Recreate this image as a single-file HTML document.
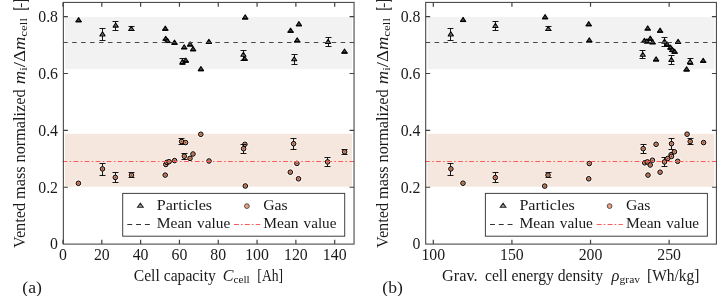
<!DOCTYPE html>
<html><head><meta charset="utf-8"><style>
html,body{margin:0;padding:0;background:#fff;width:725px;height:296px;overflow:hidden}
svg{display:block;will-change:transform}
.t{font-family:"Liberation Serif",serif;font-size:15.8px;fill:#1a1a1a}
.lg{font-size:14.2px}
.sub{font-size:0.7em}
</style></head><body>
<svg width="725" height="296" viewBox="0 0 725 296">
<rect x="65.00" y="16.9" width="287.10" height="52.3" fill="#f2f2f2"/>
<rect x="65.00" y="133.8" width="287.10" height="52.9" fill="#f6e7de"/>
<rect x="427.45" y="16.9" width="286.85" height="52.3" fill="#f2f2f2"/>
<rect x="427.45" y="133.8" width="286.85" height="52.9" fill="#f6e7de"/>
<defs><filter id="hb" x="-50%" y="-50%" width="200%" height="200%"><feGaussianBlur stdDeviation="0.6"/></filter></defs>
<circle cx="78.40" cy="183.30" r="3.6" fill="#fff" opacity="0.75" filter="url(#hb)"/>
<circle cx="102.50" cy="168.90" r="3.6" fill="#fff" opacity="0.75" filter="url(#hb)"/>
<circle cx="115.30" cy="177.40" r="3.6" fill="#fff" opacity="0.75" filter="url(#hb)"/>
<circle cx="131.50" cy="175.10" r="3.6" fill="#fff" opacity="0.75" filter="url(#hb)"/>
<circle cx="165.20" cy="175.10" r="3.6" fill="#fff" opacity="0.75" filter="url(#hb)"/>
<circle cx="165.80" cy="164.50" r="3.6" fill="#fff" opacity="0.75" filter="url(#hb)"/>
<circle cx="166.90" cy="162.30" r="3.6" fill="#fff" opacity="0.75" filter="url(#hb)"/>
<circle cx="169.10" cy="161.70" r="3.6" fill="#fff" opacity="0.75" filter="url(#hb)"/>
<circle cx="174.60" cy="160.60" r="3.6" fill="#fff" opacity="0.75" filter="url(#hb)"/>
<circle cx="181.60" cy="141.50" r="3.6" fill="#fff" opacity="0.75" filter="url(#hb)"/>
<circle cx="185.60" cy="142.60" r="3.6" fill="#fff" opacity="0.75" filter="url(#hb)"/>
<circle cx="184.30" cy="156.20" r="3.6" fill="#fff" opacity="0.75" filter="url(#hb)"/>
<circle cx="190.00" cy="158.40" r="3.6" fill="#fff" opacity="0.75" filter="url(#hb)"/>
<circle cx="193.00" cy="154.00" r="3.6" fill="#fff" opacity="0.75" filter="url(#hb)"/>
<circle cx="200.80" cy="134.30" r="3.6" fill="#fff" opacity="0.75" filter="url(#hb)"/>
<circle cx="209.00" cy="161.00" r="3.6" fill="#fff" opacity="0.75" filter="url(#hb)"/>
<circle cx="244.90" cy="144.30" r="3.6" fill="#fff" opacity="0.75" filter="url(#hb)"/>
<circle cx="243.60" cy="148.70" r="3.6" fill="#fff" opacity="0.75" filter="url(#hb)"/>
<circle cx="245.30" cy="186.00" r="3.6" fill="#fff" opacity="0.75" filter="url(#hb)"/>
<circle cx="293.60" cy="143.70" r="3.6" fill="#fff" opacity="0.75" filter="url(#hb)"/>
<circle cx="296.90" cy="163.40" r="3.6" fill="#fff" opacity="0.75" filter="url(#hb)"/>
<circle cx="290.30" cy="172.20" r="3.6" fill="#fff" opacity="0.75" filter="url(#hb)"/>
<circle cx="298.50" cy="178.80" r="3.6" fill="#fff" opacity="0.75" filter="url(#hb)"/>
<circle cx="327.60" cy="161.90" r="3.6" fill="#fff" opacity="0.75" filter="url(#hb)"/>
<circle cx="344.60" cy="151.80" r="3.6" fill="#fff" opacity="0.75" filter="url(#hb)"/>
<path d="M78.60 15.90L82.70 23.00H74.50Z" fill="#fff" opacity="0.75" filter="url(#hb)"/>
<path d="M102.50 30.10L106.60 37.20H98.40Z" fill="#fff" opacity="0.75" filter="url(#hb)"/>
<path d="M115.70 21.30L119.80 28.40H111.60Z" fill="#fff" opacity="0.75" filter="url(#hb)"/>
<path d="M131.30 24.70L135.40 31.80H127.20Z" fill="#fff" opacity="0.75" filter="url(#hb)"/>
<path d="M165.30 24.40L169.40 31.50H161.20Z" fill="#fff" opacity="0.75" filter="url(#hb)"/>
<path d="M165.70 34.50L169.80 41.60H161.60Z" fill="#fff" opacity="0.75" filter="url(#hb)"/>
<path d="M167.50 36.70L171.60 43.80H163.40Z" fill="#fff" opacity="0.75" filter="url(#hb)"/>
<path d="M174.50 38.40L178.60 45.50H170.40Z" fill="#fff" opacity="0.75" filter="url(#hb)"/>
<path d="M184.20 43.00L188.30 50.10H180.10Z" fill="#fff" opacity="0.75" filter="url(#hb)"/>
<path d="M190.10 40.20L194.20 47.30H186.00Z" fill="#fff" opacity="0.75" filter="url(#hb)"/>
<path d="M193.10 44.90L197.20 52.00H189.00Z" fill="#fff" opacity="0.75" filter="url(#hb)"/>
<path d="M182.50 57.70L186.60 64.80H178.40Z" fill="#fff" opacity="0.75" filter="url(#hb)"/>
<path d="M185.80 56.30L189.90 63.40H181.70Z" fill="#fff" opacity="0.75" filter="url(#hb)"/>
<path d="M200.90 64.80L205.00 71.90H196.80Z" fill="#fff" opacity="0.75" filter="url(#hb)"/>
<path d="M244.60 54.50L248.70 61.60H240.50Z" fill="#fff" opacity="0.75" filter="url(#hb)"/>
<path d="M208.90 37.60L213.00 44.70H204.80Z" fill="#fff" opacity="0.75" filter="url(#hb)"/>
<path d="M245.20 13.10L249.30 20.20H241.10Z" fill="#fff" opacity="0.75" filter="url(#hb)"/>
<path d="M298.90 19.90L303.00 27.00H294.80Z" fill="#fff" opacity="0.75" filter="url(#hb)"/>
<path d="M290.60 26.40L294.70 33.50H286.50Z" fill="#fff" opacity="0.75" filter="url(#hb)"/>
<path d="M297.20 36.10L301.30 43.20H293.10Z" fill="#fff" opacity="0.75" filter="url(#hb)"/>
<path d="M328.10 37.70L332.20 44.80H324.00Z" fill="#fff" opacity="0.75" filter="url(#hb)"/>
<path d="M344.50 47.30L348.60 54.40H340.40Z" fill="#fff" opacity="0.75" filter="url(#hb)"/>
<path d="M243.40 50.50L247.50 57.60H239.30Z" fill="#fff" opacity="0.75" filter="url(#hb)"/>
<path d="M294.20 55.00L298.30 62.10H290.10Z" fill="#fff" opacity="0.75" filter="url(#hb)"/>
<circle cx="450.90" cy="168.90" r="3.6" fill="#fff" opacity="0.75" filter="url(#hb)"/>
<circle cx="463.00" cy="183.20" r="3.6" fill="#fff" opacity="0.75" filter="url(#hb)"/>
<circle cx="495.30" cy="177.60" r="3.6" fill="#fff" opacity="0.75" filter="url(#hb)"/>
<circle cx="548.00" cy="175.10" r="3.6" fill="#fff" opacity="0.75" filter="url(#hb)"/>
<circle cx="544.70" cy="186.10" r="3.6" fill="#fff" opacity="0.75" filter="url(#hb)"/>
<circle cx="589.30" cy="163.50" r="3.6" fill="#fff" opacity="0.75" filter="url(#hb)"/>
<circle cx="588.70" cy="178.80" r="3.6" fill="#fff" opacity="0.75" filter="url(#hb)"/>
<circle cx="643.20" cy="148.70" r="3.6" fill="#fff" opacity="0.75" filter="url(#hb)"/>
<circle cx="656.10" cy="144.30" r="3.6" fill="#fff" opacity="0.75" filter="url(#hb)"/>
<circle cx="671.50" cy="143.70" r="3.6" fill="#fff" opacity="0.75" filter="url(#hb)"/>
<circle cx="687.10" cy="134.20" r="3.6" fill="#fff" opacity="0.75" filter="url(#hb)"/>
<circle cx="690.20" cy="141.50" r="3.6" fill="#fff" opacity="0.75" filter="url(#hb)"/>
<circle cx="703.60" cy="142.60" r="3.6" fill="#fff" opacity="0.75" filter="url(#hb)"/>
<circle cx="644.70" cy="162.80" r="3.6" fill="#fff" opacity="0.75" filter="url(#hb)"/>
<circle cx="647.30" cy="161.90" r="3.6" fill="#fff" opacity="0.75" filter="url(#hb)"/>
<circle cx="650.20" cy="165.00" r="3.6" fill="#fff" opacity="0.75" filter="url(#hb)"/>
<circle cx="652.40" cy="160.20" r="3.6" fill="#fff" opacity="0.75" filter="url(#hb)"/>
<circle cx="648.00" cy="175.10" r="3.6" fill="#fff" opacity="0.75" filter="url(#hb)"/>
<circle cx="660.10" cy="172.20" r="3.6" fill="#fff" opacity="0.75" filter="url(#hb)"/>
<circle cx="664.50" cy="161.90" r="3.6" fill="#fff" opacity="0.75" filter="url(#hb)"/>
<circle cx="667.80" cy="158.40" r="3.6" fill="#fff" opacity="0.75" filter="url(#hb)"/>
<circle cx="671.10" cy="154.70" r="3.6" fill="#fff" opacity="0.75" filter="url(#hb)"/>
<circle cx="671.50" cy="156.40" r="3.6" fill="#fff" opacity="0.75" filter="url(#hb)"/>
<circle cx="674.40" cy="151.80" r="3.6" fill="#fff" opacity="0.75" filter="url(#hb)"/>
<circle cx="677.70" cy="161.30" r="3.6" fill="#fff" opacity="0.75" filter="url(#hb)"/>
<path d="M450.80 30.10L454.90 37.20H446.70Z" fill="#fff" opacity="0.75" filter="url(#hb)"/>
<path d="M463.10 15.70L467.20 22.80H459.00Z" fill="#fff" opacity="0.75" filter="url(#hb)"/>
<path d="M495.40 21.70L499.50 28.80H491.30Z" fill="#fff" opacity="0.75" filter="url(#hb)"/>
<path d="M545.10 12.90L549.20 20.00H541.00Z" fill="#fff" opacity="0.75" filter="url(#hb)"/>
<path d="M548.30 24.70L552.40 31.80H544.20Z" fill="#fff" opacity="0.75" filter="url(#hb)"/>
<path d="M588.70 19.90L592.80 27.00H584.60Z" fill="#fff" opacity="0.75" filter="url(#hb)"/>
<path d="M589.30 36.10L593.40 43.20H585.20Z" fill="#fff" opacity="0.75" filter="url(#hb)"/>
<path d="M647.70 24.20L651.80 31.30H643.60Z" fill="#fff" opacity="0.75" filter="url(#hb)"/>
<path d="M660.10 26.40L664.20 33.50H656.00Z" fill="#fff" opacity="0.75" filter="url(#hb)"/>
<path d="M644.40 36.60L648.50 43.70H640.30Z" fill="#fff" opacity="0.75" filter="url(#hb)"/>
<path d="M646.90 37.10L651.00 44.20H642.80Z" fill="#fff" opacity="0.75" filter="url(#hb)"/>
<path d="M650.30 34.40L654.40 41.50H646.20Z" fill="#fff" opacity="0.75" filter="url(#hb)"/>
<path d="M652.60 38.00L656.70 45.10H648.50Z" fill="#fff" opacity="0.75" filter="url(#hb)"/>
<path d="M664.50 37.40L668.60 44.50H660.40Z" fill="#fff" opacity="0.75" filter="url(#hb)"/>
<path d="M667.20 40.30L671.30 47.40H663.10Z" fill="#fff" opacity="0.75" filter="url(#hb)"/>
<path d="M670.50 43.30L674.60 50.40H666.40Z" fill="#fff" opacity="0.75" filter="url(#hb)"/>
<path d="M672.30 45.70L676.40 52.80H668.20Z" fill="#fff" opacity="0.75" filter="url(#hb)"/>
<path d="M674.60 47.40L678.70 54.50H670.50Z" fill="#fff" opacity="0.75" filter="url(#hb)"/>
<path d="M678.10 37.60L682.20 44.70H674.00Z" fill="#fff" opacity="0.75" filter="url(#hb)"/>
<path d="M642.80 50.50L646.90 57.60H638.70Z" fill="#fff" opacity="0.75" filter="url(#hb)"/>
<path d="M656.10 55.10L660.20 62.20H652.00Z" fill="#fff" opacity="0.75" filter="url(#hb)"/>
<path d="M671.40 55.70L675.50 62.80H667.30Z" fill="#fff" opacity="0.75" filter="url(#hb)"/>
<path d="M690.10 57.60L694.20 64.70H686.00Z" fill="#fff" opacity="0.75" filter="url(#hb)"/>
<path d="M703.20 56.50L707.30 63.60H699.10Z" fill="#fff" opacity="0.75" filter="url(#hb)"/>
<path d="M686.60 65.10L690.70 72.20H682.50Z" fill="#fff" opacity="0.75" filter="url(#hb)"/>
<circle cx="78.40" cy="183.30" r="2.3" fill="#d28a68" stroke="#000" stroke-width="1.0"/>
<circle cx="78.40" cy="183.30" r="0.55" fill="#5a3020"/>
<path d="M102.50 163.50V175.50M99.50 163.50h6M99.50 175.50h6" stroke="#000" stroke-width="0.9" fill="none"/>
<circle cx="102.50" cy="168.90" r="2.3" fill="#d28a68" stroke="#000" stroke-width="1.0"/>
<circle cx="102.50" cy="168.90" r="0.55" fill="#5a3020"/>
<path d="M115.50 172.50V182.50M112.50 172.50h6M112.50 182.50h6" stroke="#000" stroke-width="0.9" fill="none"/>
<circle cx="115.30" cy="177.40" r="2.3" fill="#d28a68" stroke="#000" stroke-width="1.0"/>
<circle cx="115.30" cy="177.40" r="0.55" fill="#5a3020"/>
<path d="M131.50 172.50V177.50M128.50 172.50h6M128.50 177.50h6" stroke="#000" stroke-width="0.9" fill="none"/>
<circle cx="131.50" cy="175.10" r="2.3" fill="#d28a68" stroke="#000" stroke-width="1.0"/>
<circle cx="131.50" cy="175.10" r="0.55" fill="#5a3020"/>
<circle cx="165.20" cy="175.10" r="2.3" fill="#d28a68" stroke="#000" stroke-width="1.0"/>
<circle cx="165.20" cy="175.10" r="0.55" fill="#5a3020"/>
<circle cx="165.80" cy="164.50" r="2.3" fill="#d28a68" stroke="#000" stroke-width="1.0"/>
<circle cx="165.80" cy="164.50" r="0.55" fill="#5a3020"/>
<circle cx="166.90" cy="162.30" r="2.3" fill="#d28a68" stroke="#000" stroke-width="1.0"/>
<circle cx="166.90" cy="162.30" r="0.55" fill="#5a3020"/>
<circle cx="169.10" cy="161.70" r="2.3" fill="#d28a68" stroke="#000" stroke-width="1.0"/>
<circle cx="169.10" cy="161.70" r="0.55" fill="#5a3020"/>
<circle cx="174.60" cy="160.60" r="2.3" fill="#d28a68" stroke="#000" stroke-width="1.0"/>
<circle cx="174.60" cy="160.60" r="0.55" fill="#5a3020"/>
<path d="M181.50 138.50V144.50M178.50 138.50h6M178.50 144.50h6" stroke="#000" stroke-width="0.9" fill="none"/>
<circle cx="181.60" cy="141.50" r="2.3" fill="#d28a68" stroke="#000" stroke-width="1.0"/>
<circle cx="181.60" cy="141.50" r="0.55" fill="#5a3020"/>
<circle cx="185.60" cy="142.60" r="2.3" fill="#d28a68" stroke="#000" stroke-width="1.0"/>
<circle cx="185.60" cy="142.60" r="0.55" fill="#5a3020"/>
<path d="M184.50 153.50V159.50M181.50 153.50h6M181.50 159.50h6" stroke="#000" stroke-width="0.9" fill="none"/>
<circle cx="184.30" cy="156.20" r="2.3" fill="#d28a68" stroke="#000" stroke-width="1.0"/>
<circle cx="184.30" cy="156.20" r="0.55" fill="#5a3020"/>
<circle cx="190.00" cy="158.40" r="2.3" fill="#d28a68" stroke="#000" stroke-width="1.0"/>
<circle cx="190.00" cy="158.40" r="0.55" fill="#5a3020"/>
<circle cx="193.00" cy="154.00" r="2.3" fill="#d28a68" stroke="#000" stroke-width="1.0"/>
<circle cx="193.00" cy="154.00" r="0.55" fill="#5a3020"/>
<circle cx="200.80" cy="134.30" r="2.3" fill="#d28a68" stroke="#000" stroke-width="1.0"/>
<circle cx="200.80" cy="134.30" r="0.55" fill="#5a3020"/>
<circle cx="209.00" cy="161.00" r="2.3" fill="#d28a68" stroke="#000" stroke-width="1.0"/>
<circle cx="209.00" cy="161.00" r="0.55" fill="#5a3020"/>
<circle cx="244.90" cy="144.30" r="2.3" fill="#d28a68" stroke="#000" stroke-width="1.0"/>
<circle cx="244.90" cy="144.30" r="0.55" fill="#5a3020"/>
<path d="M243.50 144.50V153.50M240.50 144.50h6M240.50 153.50h6" stroke="#000" stroke-width="0.9" fill="none"/>
<circle cx="243.60" cy="148.70" r="2.3" fill="#d28a68" stroke="#000" stroke-width="1.0"/>
<circle cx="243.60" cy="148.70" r="0.55" fill="#5a3020"/>
<circle cx="245.30" cy="186.00" r="2.3" fill="#d28a68" stroke="#000" stroke-width="1.0"/>
<circle cx="245.30" cy="186.00" r="0.55" fill="#5a3020"/>
<path d="M293.50 138.50V149.50M290.50 138.50h6M290.50 149.50h6" stroke="#000" stroke-width="0.9" fill="none"/>
<circle cx="293.60" cy="143.70" r="2.3" fill="#d28a68" stroke="#000" stroke-width="1.0"/>
<circle cx="293.60" cy="143.70" r="0.55" fill="#5a3020"/>
<circle cx="296.90" cy="163.40" r="2.3" fill="#d28a68" stroke="#000" stroke-width="1.0"/>
<circle cx="296.90" cy="163.40" r="0.55" fill="#5a3020"/>
<circle cx="290.30" cy="172.20" r="2.3" fill="#d28a68" stroke="#000" stroke-width="1.0"/>
<circle cx="290.30" cy="172.20" r="0.55" fill="#5a3020"/>
<circle cx="298.50" cy="178.80" r="2.3" fill="#d28a68" stroke="#000" stroke-width="1.0"/>
<circle cx="298.50" cy="178.80" r="0.55" fill="#5a3020"/>
<path d="M327.50 157.50V166.50M324.50 157.50h6M324.50 166.50h6" stroke="#000" stroke-width="0.9" fill="none"/>
<circle cx="327.60" cy="161.90" r="2.3" fill="#d28a68" stroke="#000" stroke-width="1.0"/>
<circle cx="327.60" cy="161.90" r="0.55" fill="#5a3020"/>
<path d="M344.50 149.50V154.50M341.50 149.50h6M341.50 154.50h6" stroke="#000" stroke-width="0.9" fill="none"/>
<circle cx="344.60" cy="151.80" r="2.3" fill="#d28a68" stroke="#000" stroke-width="1.0"/>
<circle cx="344.60" cy="151.80" r="0.55" fill="#5a3020"/>
<path d="M78.60 17.60L81.20 21.70H76.00Z" fill="#4a4a4a" stroke="#000" stroke-width="1.05" stroke-linejoin="round"/>
<path d="M75.60 21.60H81.60" stroke="#000" stroke-width="1.4"/>
<path d="M102.50 28.50V40.50M99.50 28.50h6M99.50 40.50h6" stroke="#000" stroke-width="0.9" fill="none"/>
<path d="M102.50 31.80L105.10 35.90H99.90Z" fill="#8c8c8c" stroke="#000" stroke-width="1.05" stroke-linejoin="round"/>
<circle cx="102.50" cy="34.30" r="0.6" fill="#333"/>
<path d="M115.50 21.50V30.50M112.50 21.50h6M112.50 30.50h6" stroke="#000" stroke-width="0.9" fill="none"/>
<path d="M115.70 23.00L118.30 27.10H113.10Z" fill="#8c8c8c" stroke="#000" stroke-width="1.05" stroke-linejoin="round"/>
<circle cx="115.70" cy="25.50" r="0.6" fill="#333"/>
<path d="M131.50 26.50V30.50M128.50 26.50h6M128.50 30.50h6" stroke="#000" stroke-width="0.9" fill="none"/>
<path d="M131.30 26.40L133.90 30.50H128.70Z" fill="#8c8c8c" stroke="#000" stroke-width="1.05" stroke-linejoin="round"/>
<circle cx="131.30" cy="28.90" r="0.6" fill="#333"/>
<path d="M165.30 26.10L167.90 30.20H162.70Z" fill="#4a4a4a" stroke="#000" stroke-width="1.05" stroke-linejoin="round"/>
<path d="M162.30 30.10H168.30" stroke="#000" stroke-width="1.4"/>
<path d="M165.70 36.20L168.30 40.30H163.10Z" fill="#4a4a4a" stroke="#000" stroke-width="1.05" stroke-linejoin="round"/>
<path d="M162.70 40.20H168.70" stroke="#000" stroke-width="1.4"/>
<path d="M167.50 38.40L170.10 42.50H164.90Z" fill="#4a4a4a" stroke="#000" stroke-width="1.05" stroke-linejoin="round"/>
<path d="M164.50 42.40H170.50" stroke="#000" stroke-width="1.4"/>
<path d="M174.50 40.10L177.10 44.20H171.90Z" fill="#4a4a4a" stroke="#000" stroke-width="1.05" stroke-linejoin="round"/>
<path d="M171.50 44.10H177.50" stroke="#000" stroke-width="1.4"/>
<path d="M184.20 44.70L186.80 48.80H181.60Z" fill="#4a4a4a" stroke="#000" stroke-width="1.05" stroke-linejoin="round"/>
<path d="M181.20 48.70H187.20" stroke="#000" stroke-width="1.4"/>
<path d="M190.10 41.90L192.70 46.00H187.50Z" fill="#4a4a4a" stroke="#000" stroke-width="1.05" stroke-linejoin="round"/>
<path d="M187.10 45.90H193.10" stroke="#000" stroke-width="1.4"/>
<path d="M193.10 46.60L195.70 50.70H190.50Z" fill="#4a4a4a" stroke="#000" stroke-width="1.05" stroke-linejoin="round"/>
<path d="M190.10 50.60H196.10" stroke="#000" stroke-width="1.4"/>
<path d="M182.50 58.50V64.50M179.50 58.50h6M179.50 64.50h6" stroke="#000" stroke-width="0.9" fill="none"/>
<path d="M182.50 59.40L185.10 63.50H179.90Z" fill="#8c8c8c" stroke="#000" stroke-width="1.05" stroke-linejoin="round"/>
<circle cx="182.50" cy="61.90" r="0.6" fill="#333"/>
<path d="M185.80 58.00L188.40 62.10H183.20Z" fill="#4a4a4a" stroke="#000" stroke-width="1.05" stroke-linejoin="round"/>
<path d="M182.80 62.00H188.80" stroke="#000" stroke-width="1.4"/>
<path d="M200.90 66.50L203.50 70.60H198.30Z" fill="#4a4a4a" stroke="#000" stroke-width="1.05" stroke-linejoin="round"/>
<path d="M197.90 70.50H203.90" stroke="#000" stroke-width="1.4"/>
<path d="M244.60 56.20L247.20 60.30H242.00Z" fill="#4a4a4a" stroke="#000" stroke-width="1.05" stroke-linejoin="round"/>
<path d="M241.60 60.20H247.60" stroke="#000" stroke-width="1.4"/>
<path d="M208.90 39.30L211.50 43.40H206.30Z" fill="#4a4a4a" stroke="#000" stroke-width="1.05" stroke-linejoin="round"/>
<path d="M205.90 43.30H211.90" stroke="#000" stroke-width="1.4"/>
<path d="M245.20 14.80L247.80 18.90H242.60Z" fill="#4a4a4a" stroke="#000" stroke-width="1.05" stroke-linejoin="round"/>
<path d="M242.20 18.80H248.20" stroke="#000" stroke-width="1.4"/>
<path d="M298.90 21.60L301.50 25.70H296.30Z" fill="#4a4a4a" stroke="#000" stroke-width="1.05" stroke-linejoin="round"/>
<path d="M295.90 25.60H301.90" stroke="#000" stroke-width="1.4"/>
<path d="M290.60 28.10L293.20 32.20H288.00Z" fill="#4a4a4a" stroke="#000" stroke-width="1.05" stroke-linejoin="round"/>
<path d="M287.60 32.10H293.60" stroke="#000" stroke-width="1.4"/>
<path d="M297.20 37.80L299.80 41.90H294.60Z" fill="#4a4a4a" stroke="#000" stroke-width="1.05" stroke-linejoin="round"/>
<path d="M294.20 41.80H300.20" stroke="#000" stroke-width="1.4"/>
<path d="M328.50 37.50V46.50M325.50 37.50h6M325.50 46.50h6" stroke="#000" stroke-width="0.9" fill="none"/>
<path d="M328.10 39.40L330.70 43.50H325.50Z" fill="#8c8c8c" stroke="#000" stroke-width="1.05" stroke-linejoin="round"/>
<circle cx="328.10" cy="41.90" r="0.6" fill="#333"/>
<path d="M344.50 49.00L347.10 53.10H341.90Z" fill="#4a4a4a" stroke="#000" stroke-width="1.05" stroke-linejoin="round"/>
<path d="M341.50 53.00H347.50" stroke="#000" stroke-width="1.4"/>
<path d="M243.50 50.50V60.50M240.50 50.50h6M240.50 60.50h6" stroke="#000" stroke-width="0.9" fill="none"/>
<path d="M243.40 52.20L246.00 56.30H240.80Z" fill="#8c8c8c" stroke="#000" stroke-width="1.05" stroke-linejoin="round"/>
<circle cx="243.40" cy="54.70" r="0.6" fill="#333"/>
<path d="M294.50 54.50V64.50M291.50 54.50h6M291.50 64.50h6" stroke="#000" stroke-width="0.9" fill="none"/>
<path d="M294.20 56.70L296.80 60.80H291.60Z" fill="#8c8c8c" stroke="#000" stroke-width="1.05" stroke-linejoin="round"/>
<circle cx="294.20" cy="59.20" r="0.6" fill="#333"/>
<path d="M450.50 163.50V175.50M447.50 163.50h6M447.50 175.50h6" stroke="#000" stroke-width="0.9" fill="none"/>
<circle cx="450.90" cy="168.90" r="2.3" fill="#d28a68" stroke="#000" stroke-width="1.0"/>
<circle cx="450.90" cy="168.90" r="0.55" fill="#5a3020"/>
<circle cx="463.00" cy="183.20" r="2.3" fill="#d28a68" stroke="#000" stroke-width="1.0"/>
<circle cx="463.00" cy="183.20" r="0.55" fill="#5a3020"/>
<path d="M495.50 172.50V182.50M492.50 172.50h6M492.50 182.50h6" stroke="#000" stroke-width="0.9" fill="none"/>
<circle cx="495.30" cy="177.60" r="2.3" fill="#d28a68" stroke="#000" stroke-width="1.0"/>
<circle cx="495.30" cy="177.60" r="0.55" fill="#5a3020"/>
<path d="M548.50 172.50V177.50M545.50 172.50h6M545.50 177.50h6" stroke="#000" stroke-width="0.9" fill="none"/>
<circle cx="548.00" cy="175.10" r="2.3" fill="#d28a68" stroke="#000" stroke-width="1.0"/>
<circle cx="548.00" cy="175.10" r="0.55" fill="#5a3020"/>
<circle cx="544.70" cy="186.10" r="2.3" fill="#d28a68" stroke="#000" stroke-width="1.0"/>
<circle cx="544.70" cy="186.10" r="0.55" fill="#5a3020"/>
<circle cx="589.30" cy="163.50" r="2.3" fill="#d28a68" stroke="#000" stroke-width="1.0"/>
<circle cx="589.30" cy="163.50" r="0.55" fill="#5a3020"/>
<circle cx="588.70" cy="178.80" r="2.3" fill="#d28a68" stroke="#000" stroke-width="1.0"/>
<circle cx="588.70" cy="178.80" r="0.55" fill="#5a3020"/>
<path d="M643.50 144.50V153.50M640.50 144.50h6M640.50 153.50h6" stroke="#000" stroke-width="0.9" fill="none"/>
<circle cx="643.20" cy="148.70" r="2.3" fill="#d28a68" stroke="#000" stroke-width="1.0"/>
<circle cx="643.20" cy="148.70" r="0.55" fill="#5a3020"/>
<circle cx="656.10" cy="144.30" r="2.3" fill="#d28a68" stroke="#000" stroke-width="1.0"/>
<circle cx="656.10" cy="144.30" r="0.55" fill="#5a3020"/>
<path d="M671.50 138.50V149.50M668.50 138.50h6M668.50 149.50h6" stroke="#000" stroke-width="0.9" fill="none"/>
<circle cx="671.50" cy="143.70" r="2.3" fill="#d28a68" stroke="#000" stroke-width="1.0"/>
<circle cx="671.50" cy="143.70" r="0.55" fill="#5a3020"/>
<circle cx="687.10" cy="134.20" r="2.3" fill="#d28a68" stroke="#000" stroke-width="1.0"/>
<circle cx="687.10" cy="134.20" r="0.55" fill="#5a3020"/>
<path d="M690.50 138.50V144.50M687.50 138.50h6M687.50 144.50h6" stroke="#000" stroke-width="0.9" fill="none"/>
<circle cx="690.20" cy="141.50" r="2.3" fill="#d28a68" stroke="#000" stroke-width="1.0"/>
<circle cx="690.20" cy="141.50" r="0.55" fill="#5a3020"/>
<circle cx="703.60" cy="142.60" r="2.3" fill="#d28a68" stroke="#000" stroke-width="1.0"/>
<circle cx="703.60" cy="142.60" r="0.55" fill="#5a3020"/>
<circle cx="644.70" cy="162.80" r="2.3" fill="#d28a68" stroke="#000" stroke-width="1.0"/>
<circle cx="644.70" cy="162.80" r="0.55" fill="#5a3020"/>
<circle cx="647.30" cy="161.90" r="2.3" fill="#d28a68" stroke="#000" stroke-width="1.0"/>
<circle cx="647.30" cy="161.90" r="0.55" fill="#5a3020"/>
<circle cx="650.20" cy="165.00" r="2.3" fill="#d28a68" stroke="#000" stroke-width="1.0"/>
<circle cx="650.20" cy="165.00" r="0.55" fill="#5a3020"/>
<circle cx="652.40" cy="160.20" r="2.3" fill="#d28a68" stroke="#000" stroke-width="1.0"/>
<circle cx="652.40" cy="160.20" r="0.55" fill="#5a3020"/>
<circle cx="648.00" cy="175.10" r="2.3" fill="#d28a68" stroke="#000" stroke-width="1.0"/>
<circle cx="648.00" cy="175.10" r="0.55" fill="#5a3020"/>
<circle cx="660.10" cy="172.20" r="2.3" fill="#d28a68" stroke="#000" stroke-width="1.0"/>
<circle cx="660.10" cy="172.20" r="0.55" fill="#5a3020"/>
<path d="M664.50 157.50V166.50M661.50 157.50h6M661.50 166.50h6" stroke="#000" stroke-width="0.9" fill="none"/>
<circle cx="664.50" cy="161.90" r="2.3" fill="#d28a68" stroke="#000" stroke-width="1.0"/>
<circle cx="664.50" cy="161.90" r="0.55" fill="#5a3020"/>
<circle cx="667.80" cy="158.40" r="2.3" fill="#d28a68" stroke="#000" stroke-width="1.0"/>
<circle cx="667.80" cy="158.40" r="0.55" fill="#5a3020"/>
<circle cx="671.10" cy="154.70" r="2.3" fill="#d28a68" stroke="#000" stroke-width="1.0"/>
<circle cx="671.10" cy="154.70" r="0.55" fill="#5a3020"/>
<circle cx="671.50" cy="156.40" r="2.3" fill="#d28a68" stroke="#000" stroke-width="1.0"/>
<circle cx="671.50" cy="156.40" r="0.55" fill="#5a3020"/>
<circle cx="674.40" cy="151.80" r="2.3" fill="#d28a68" stroke="#000" stroke-width="1.0"/>
<circle cx="674.40" cy="151.80" r="0.55" fill="#5a3020"/>
<circle cx="677.70" cy="161.30" r="2.3" fill="#d28a68" stroke="#000" stroke-width="1.0"/>
<circle cx="677.70" cy="161.30" r="0.55" fill="#5a3020"/>
<path d="M450.50 28.50V40.50M447.50 28.50h6M447.50 40.50h6" stroke="#000" stroke-width="0.9" fill="none"/>
<path d="M450.80 31.80L453.40 35.90H448.20Z" fill="#8c8c8c" stroke="#000" stroke-width="1.05" stroke-linejoin="round"/>
<circle cx="450.80" cy="34.30" r="0.6" fill="#333"/>
<path d="M463.10 17.40L465.70 21.50H460.50Z" fill="#4a4a4a" stroke="#000" stroke-width="1.05" stroke-linejoin="round"/>
<path d="M460.10 21.40H466.10" stroke="#000" stroke-width="1.4"/>
<path d="M495.50 21.50V30.50M492.50 21.50h6M492.50 30.50h6" stroke="#000" stroke-width="0.9" fill="none"/>
<path d="M495.40 23.40L498.00 27.50H492.80Z" fill="#8c8c8c" stroke="#000" stroke-width="1.05" stroke-linejoin="round"/>
<circle cx="495.40" cy="25.90" r="0.6" fill="#333"/>
<path d="M545.10 14.60L547.70 18.70H542.50Z" fill="#4a4a4a" stroke="#000" stroke-width="1.05" stroke-linejoin="round"/>
<path d="M542.10 18.60H548.10" stroke="#000" stroke-width="1.4"/>
<path d="M548.50 26.50V30.50M545.50 26.50h6M545.50 30.50h6" stroke="#000" stroke-width="0.9" fill="none"/>
<path d="M548.30 26.40L550.90 30.50H545.70Z" fill="#8c8c8c" stroke="#000" stroke-width="1.05" stroke-linejoin="round"/>
<circle cx="548.30" cy="28.90" r="0.6" fill="#333"/>
<path d="M588.70 21.60L591.30 25.70H586.10Z" fill="#4a4a4a" stroke="#000" stroke-width="1.05" stroke-linejoin="round"/>
<path d="M585.70 25.60H591.70" stroke="#000" stroke-width="1.4"/>
<path d="M589.30 37.80L591.90 41.90H586.70Z" fill="#4a4a4a" stroke="#000" stroke-width="1.05" stroke-linejoin="round"/>
<path d="M586.30 41.80H592.30" stroke="#000" stroke-width="1.4"/>
<path d="M647.70 25.90L650.30 30.00H645.10Z" fill="#4a4a4a" stroke="#000" stroke-width="1.05" stroke-linejoin="round"/>
<path d="M644.70 29.90H650.70" stroke="#000" stroke-width="1.4"/>
<path d="M660.10 28.10L662.70 32.20H657.50Z" fill="#4a4a4a" stroke="#000" stroke-width="1.05" stroke-linejoin="round"/>
<path d="M657.10 32.10H663.10" stroke="#000" stroke-width="1.4"/>
<path d="M644.40 38.30L647.00 42.40H641.80Z" fill="#4a4a4a" stroke="#000" stroke-width="1.05" stroke-linejoin="round"/>
<path d="M641.40 42.30H647.40" stroke="#000" stroke-width="1.4"/>
<path d="M646.90 38.80L649.50 42.90H644.30Z" fill="#4a4a4a" stroke="#000" stroke-width="1.05" stroke-linejoin="round"/>
<path d="M643.90 42.80H649.90" stroke="#000" stroke-width="1.4"/>
<path d="M650.30 36.10L652.90 40.20H647.70Z" fill="#4a4a4a" stroke="#000" stroke-width="1.05" stroke-linejoin="round"/>
<path d="M647.30 40.10H653.30" stroke="#000" stroke-width="1.4"/>
<path d="M652.60 39.70L655.20 43.80H650.00Z" fill="#4a4a4a" stroke="#000" stroke-width="1.05" stroke-linejoin="round"/>
<path d="M649.60 43.70H655.60" stroke="#000" stroke-width="1.4"/>
<path d="M664.50 37.50V46.50M661.50 37.50h6M661.50 46.50h6" stroke="#000" stroke-width="0.9" fill="none"/>
<path d="M664.50 39.10L667.10 43.20H661.90Z" fill="#8c8c8c" stroke="#000" stroke-width="1.05" stroke-linejoin="round"/>
<circle cx="664.50" cy="41.60" r="0.6" fill="#333"/>
<path d="M667.20 42.00L669.80 46.10H664.60Z" fill="#4a4a4a" stroke="#000" stroke-width="1.05" stroke-linejoin="round"/>
<path d="M664.20 46.00H670.20" stroke="#000" stroke-width="1.4"/>
<path d="M670.50 45.00L673.10 49.10H667.90Z" fill="#4a4a4a" stroke="#000" stroke-width="1.05" stroke-linejoin="round"/>
<path d="M667.50 49.00H673.50" stroke="#000" stroke-width="1.4"/>
<path d="M672.30 47.40L674.90 51.50H669.70Z" fill="#4a4a4a" stroke="#000" stroke-width="1.05" stroke-linejoin="round"/>
<path d="M669.30 51.40H675.30" stroke="#000" stroke-width="1.4"/>
<path d="M674.60 49.10L677.20 53.20H672.00Z" fill="#4a4a4a" stroke="#000" stroke-width="1.05" stroke-linejoin="round"/>
<path d="M671.60 53.10H677.60" stroke="#000" stroke-width="1.4"/>
<path d="M678.10 39.30L680.70 43.40H675.50Z" fill="#4a4a4a" stroke="#000" stroke-width="1.05" stroke-linejoin="round"/>
<path d="M675.10 43.30H681.10" stroke="#000" stroke-width="1.4"/>
<path d="M642.50 50.50V58.50M639.50 50.50h6M639.50 58.50h6" stroke="#000" stroke-width="0.9" fill="none"/>
<path d="M642.80 52.20L645.40 56.30H640.20Z" fill="#8c8c8c" stroke="#000" stroke-width="1.05" stroke-linejoin="round"/>
<circle cx="642.80" cy="54.70" r="0.6" fill="#333"/>
<path d="M656.10 56.80L658.70 60.90H653.50Z" fill="#4a4a4a" stroke="#000" stroke-width="1.05" stroke-linejoin="round"/>
<path d="M653.10 60.80H659.10" stroke="#000" stroke-width="1.4"/>
<path d="M671.50 55.50V64.50M668.50 55.50h6M668.50 64.50h6" stroke="#000" stroke-width="0.9" fill="none"/>
<path d="M671.40 57.40L674.00 61.50H668.80Z" fill="#8c8c8c" stroke="#000" stroke-width="1.05" stroke-linejoin="round"/>
<circle cx="671.40" cy="59.90" r="0.6" fill="#333"/>
<path d="M690.50 58.50V64.50M687.50 58.50h6M687.50 64.50h6" stroke="#000" stroke-width="0.9" fill="none"/>
<path d="M690.10 59.30L692.70 63.40H687.50Z" fill="#8c8c8c" stroke="#000" stroke-width="1.05" stroke-linejoin="round"/>
<circle cx="690.10" cy="61.80" r="0.6" fill="#333"/>
<path d="M703.20 58.20L705.80 62.30H700.60Z" fill="#4a4a4a" stroke="#000" stroke-width="1.05" stroke-linejoin="round"/>
<path d="M700.20 62.20H706.20" stroke="#000" stroke-width="1.4"/>
<path d="M686.60 66.80L689.20 70.90H684.00Z" fill="#4a4a4a" stroke="#000" stroke-width="1.05" stroke-linejoin="round"/>
<path d="M683.60 70.80H689.60" stroke="#000" stroke-width="1.4"/>
<line x1="63.20" y1="42.5" x2="354.1" y2="42.5" stroke="#484848" stroke-width="1.0" stroke-dasharray="4.55 4.4"/>
<line x1="62.60" y1="161.5" x2="354.1" y2="161.5" stroke="#ff5858" stroke-width="1.0" stroke-dasharray="4.7 2.4 1.5 2.43"/>
<line x1="425.65" y1="42.5" x2="716.3" y2="42.5" stroke="#484848" stroke-width="1.0" stroke-dasharray="4.55 4.4"/>
<line x1="425.05" y1="161.5" x2="716.3" y2="161.5" stroke="#ff5858" stroke-width="1.0" stroke-dasharray="4.7 2.4 1.5 2.43"/>
<rect x="63.35" y="2.4" width="290.70" height="241.70" fill="none" stroke="#404040" stroke-width="1.05"/>
<path d="M63.35 187.23h4.5M354.05 187.23h-4.5M63.35 130.36h4.5M354.05 130.36h-4.5M63.35 73.49h4.5M354.05 73.49h-4.5M63.35 16.62h4.5M354.05 16.62h-4.5M63.00 244.1v-4.3M63.00 2.4v4.3M101.81 244.1v-4.3M101.81 2.4v4.3M140.63 244.1v-4.3M140.63 2.4v4.3M179.44 244.1v-4.3M179.44 2.4v4.3M218.25 244.1v-4.3M218.25 2.4v4.3M257.07 244.1v-4.3M257.07 2.4v4.3M295.88 244.1v-4.3M295.88 2.4v4.3M334.69 244.1v-4.3M334.69 2.4v4.3" stroke="#404040" stroke-width="1.2" fill="none"/>
<text x="58.00" y="249.45" text-anchor="end" class="t">0</text>
<text x="58.00" y="192.58" text-anchor="end" class="t">0.2</text>
<text x="58.00" y="135.71" text-anchor="end" class="t">0.4</text>
<text x="58.00" y="78.84" text-anchor="end" class="t">0.6</text>
<text x="58.00" y="21.97" text-anchor="end" class="t">0.8</text>
<text x="63.00" y="259.8" text-anchor="middle" class="t">0</text>
<text x="101.81" y="259.8" text-anchor="middle" class="t">20</text>
<text x="140.63" y="259.8" text-anchor="middle" class="t">40</text>
<text x="179.44" y="259.8" text-anchor="middle" class="t">60</text>
<text x="218.25" y="259.8" text-anchor="middle" class="t">80</text>
<text x="257.07" y="259.8" text-anchor="middle" class="t">100</text>
<text x="295.88" y="259.8" text-anchor="middle" class="t">120</text>
<text x="334.69" y="259.8" text-anchor="middle" class="t">140</text>
<rect x="425.7" y="2.4" width="290.70" height="241.70" fill="none" stroke="#404040" stroke-width="1.05"/>
<path d="M425.7 187.23h4.5M716.4 187.23h-4.5M425.7 130.36h4.5M716.4 130.36h-4.5M425.7 73.49h4.5M716.4 73.49h-4.5M425.7 16.62h4.5M716.4 16.62h-4.5M433.31 244.1v-4.3M433.31 2.4v4.3M511.92 244.1v-4.3M511.92 2.4v4.3M590.53 244.1v-4.3M590.53 2.4v4.3M669.14 244.1v-4.3M669.14 2.4v4.3" stroke="#404040" stroke-width="1.2" fill="none"/>
<text x="420.45" y="249.45" text-anchor="end" class="t">0</text>
<text x="420.45" y="192.58" text-anchor="end" class="t">0.2</text>
<text x="420.45" y="135.71" text-anchor="end" class="t">0.4</text>
<text x="420.45" y="78.84" text-anchor="end" class="t">0.6</text>
<text x="420.45" y="21.97" text-anchor="end" class="t">0.8</text>
<text x="433.31" y="259.8" text-anchor="middle" class="t">100</text>
<text x="511.92" y="259.8" text-anchor="middle" class="t">150</text>
<text x="590.53" y="259.8" text-anchor="middle" class="t">200</text>
<text x="669.14" y="259.8" text-anchor="middle" class="t">250</text>
<rect x="122.7" y="193.4" width="222" height="42.8" fill="#fff" stroke="#404040" stroke-width="1"/>
<path d="M140.40 203.3L143.20 207.2H137.60Z" fill="#aaa" stroke="#222" stroke-width="1.1"/>
<circle cx="246.90" cy="206.1" r="2.4" fill="#eaa07e" stroke="#333" stroke-width="0.8"/>
<line x1="127.30" y1="224.5" x2="150.20" y2="224.5" stroke="#333" stroke-width="1.1" stroke-dasharray="4.9 3.9"/>
<line x1="234.00" y1="224.5" x2="260.10" y2="224.5" stroke="#ff5858" stroke-width="1.1" stroke-dasharray="4.9 2.1 1.6 2.3"/>
<rect x="485.4" y="193.4" width="222" height="42.8" fill="#fff" stroke="#404040" stroke-width="1"/>
<path d="M503.10 203.3L505.90 207.2H500.30Z" fill="#aaa" stroke="#222" stroke-width="1.1"/>
<circle cx="609.60" cy="206.1" r="2.4" fill="#eaa07e" stroke="#333" stroke-width="0.8"/>
<line x1="490.00" y1="224.5" x2="512.90" y2="224.5" stroke="#333" stroke-width="1.1" stroke-dasharray="4.9 3.9"/>
<line x1="596.70" y1="224.5" x2="622.80" y2="224.5" stroke="#ff5858" stroke-width="1.1" stroke-dasharray="4.9 2.1 1.6 2.3"/>
<text class="t" style="font-size:15.8px" x="133.72" y="280.5" textLength="82.1" lengthAdjust="spacingAndGlyphs">Cell capacity</text>
<text class="t" style="font-size:15.8px" x="222.72" y="280.5" textLength="27.0" lengthAdjust="spacingAndGlyphs"><tspan font-style="italic">C</tspan><tspan class="sub" dy="2.3">cell</tspan></text>
<text class="t" style="font-size:15.8px" x="257.36" y="280.5" textLength="25.75" lengthAdjust="spacingAndGlyphs">[Ah]</text>
<text class="t" style="font-size:15.8px" x="442.08" y="280.5" textLength="35.52" lengthAdjust="spacingAndGlyphs">Grav.</text>
<text class="t" style="font-size:15.8px" x="484.94" y="280.5" textLength="118.11" lengthAdjust="spacingAndGlyphs">cell energy density</text>
<text class="t" style="font-size:15.8px" x="611.60" y="280.5" textLength="28.46" lengthAdjust="spacingAndGlyphs"><tspan font-style="italic">ρ</tspan><tspan class="sub" dy="2.3">grav</tspan></text>
<text class="t" style="font-size:15.8px" x="647.00" y="280.5" textLength="52.33" lengthAdjust="spacingAndGlyphs">[Wh/kg]</text>
<text class="t" style="font-size:15.8px" transform="translate(25.00 248.00) rotate(-90)" textLength="158.61" lengthAdjust="spacingAndGlyphs">Vented mass normalized</text>
<text class="t" style="font-size:15.8px" transform="translate(387.90 248.00) rotate(-90)" textLength="158.61" lengthAdjust="spacingAndGlyphs">Vented mass normalized</text>
<text class="t" style="font-size:15.8px" transform="translate(25.00 84.14) rotate(-90)" textLength="66.21" lengthAdjust="spacingAndGlyphs"><tspan font-style="italic">m</tspan><tspan class="sub" dy="2.3">i</tspan><tspan dy="-2.3">/Δ</tspan><tspan font-style="italic">m</tspan><tspan class="sub" dy="2.3">cell</tspan></text>
<text class="t" style="font-size:15.8px" transform="translate(387.90 84.14) rotate(-90)" textLength="66.21" lengthAdjust="spacingAndGlyphs"><tspan font-style="italic">m</tspan><tspan class="sub" dy="2.3">i</tspan><tspan dy="-2.3">/Δ</tspan><tspan font-style="italic">m</tspan><tspan class="sub" dy="2.3">cell</tspan></text>
<text class="t" style="font-size:14.2px" x="156.72" y="209.9" textLength="55.4" lengthAdjust="spacingAndGlyphs">Particles</text>
<text class="t" style="font-size:14.2px" x="519.42" y="209.9" textLength="55.4" lengthAdjust="spacingAndGlyphs">Particles</text>
<text class="t" style="font-size:14.2px" x="156.72" y="228.1" textLength="35.44" lengthAdjust="spacingAndGlyphs">Mean</text>
<text class="t" style="font-size:14.2px" x="519.42" y="228.1" textLength="35.44" lengthAdjust="spacingAndGlyphs">Mean</text>
<text class="t" style="font-size:14.2px" x="197.08" y="228.1" textLength="33.11" lengthAdjust="spacingAndGlyphs">value</text>
<text class="t" style="font-size:14.2px" x="559.78" y="228.1" textLength="33.11" lengthAdjust="spacingAndGlyphs">value</text>
<text class="t" style="font-size:14.2px" x="263.22" y="209.8" textLength="24.51" lengthAdjust="spacingAndGlyphs">Gas</text>
<text class="t" style="font-size:14.2px" x="625.92" y="209.8" textLength="24.51" lengthAdjust="spacingAndGlyphs">Gas</text>
<text class="t" style="font-size:14.2px" x="263.22" y="228.1" textLength="35.41" lengthAdjust="spacingAndGlyphs">Mean</text>
<text class="t" style="font-size:14.2px" x="625.92" y="228.1" textLength="35.41" lengthAdjust="spacingAndGlyphs">Mean</text>
<text class="t" style="font-size:14.2px" x="303.58" y="228.1" textLength="32.85" lengthAdjust="spacingAndGlyphs">value</text>
<text class="t" style="font-size:14.2px" x="666.28" y="228.1" textLength="32.85" lengthAdjust="spacingAndGlyphs">value</text>
<path d="M13.70 7.6V9.1H28.40V7.6M21.50 3.2V7.2M13.70 1.7V0.35H28.40V1.7" fill="none" stroke="#222" stroke-width="1.05"/>
<path d="M376.60 7.6V9.1H391.30V7.6M384.40 3.2V7.2M376.60 1.7V0.35H391.30V1.7" fill="none" stroke="#222" stroke-width="1.05"/>
<text class="t" x="22.3" y="292.8" textLength="19.6" lengthAdjust="spacingAndGlyphs">(a)</text>
<text class="t" x="382.3" y="292.8" textLength="20.5" lengthAdjust="spacingAndGlyphs">(b)</text>
</svg>
</body></html>
